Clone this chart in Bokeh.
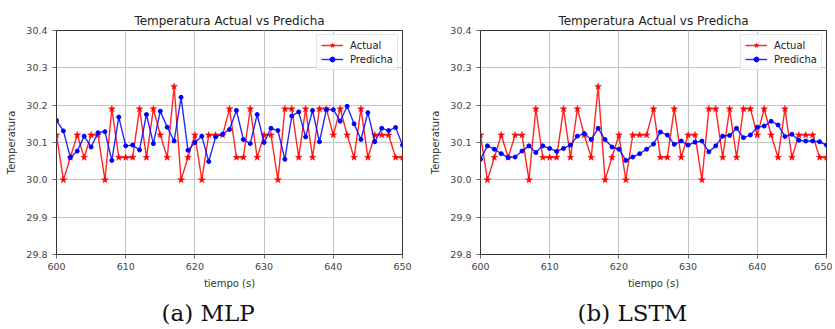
from bokeh.plotting import figure
from bokeh.layouts import row
from bokeh.models import FixedTicker, PrintfTickFormatter, Range1d, Title, Legend
from bokeh.embed import file_html
from bokeh.resources import INLINE

time_s = list(range(600, 651))

actual = [30.12, 30.00, 30.06, 30.12, 30.06, 30.12, 30.12, 30.00, 30.19, 30.06,
          30.06, 30.06, 30.19, 30.06, 30.19, 30.12, 30.06, 30.25, 30.00, 30.06,
          30.12, 30.00, 30.12, 30.12, 30.12, 30.19, 30.06, 30.06, 30.19, 30.06,
          30.12, 30.12, 30.00, 30.19, 30.19, 30.06, 30.19, 30.06, 30.19, 30.19,
          30.12, 30.19, 30.12, 30.06, 30.19, 30.06, 30.12, 30.12, 30.12, 30.06,
          30.06]

pred_mlp = [30.159, 30.131, 30.060, 30.077, 30.117, 30.088, 30.126, 30.129, 30.052, 30.168,
            30.091, 30.093, 30.080, 30.175, 30.097, 30.184, 30.141, 30.104, 30.221, 30.079,
            30.100, 30.117, 30.049, 30.115, 30.122, 30.135, 30.186, 30.108, 30.097, 30.175,
            30.100, 30.138, 30.132, 30.055, 30.171, 30.182, 30.115, 30.186, 30.102, 30.188,
            30.188, 30.157, 30.197, 30.150, 30.108, 30.180, 30.102, 30.138, 30.132, 30.140,
            30.093]

pred_lstm = [30.055, 30.091, 30.082, 30.070, 30.060, 30.061, 30.077, 30.091, 30.073, 30.091,
             30.084, 30.076, 30.084, 30.093, 30.117, 30.124, 30.108, 30.138, 30.108, 30.088,
             30.082, 30.052, 30.061, 30.070, 30.082, 30.096, 30.128, 30.120, 30.095, 30.104,
             30.093, 30.101, 30.104, 30.075, 30.091, 30.117, 30.119, 30.138, 30.113, 30.120,
             30.141, 30.144, 30.157, 30.147, 30.116, 30.122, 30.106, 30.104, 30.104, 30.102,
             30.093]

x_ticks = [600, 610, 620, 630, 640, 650]
y_ticks = [29.8, 29.9, 30.0, 30.1, 30.2, 30.3, 30.4]

title_text = "Temperatura Actual vs Predicha"
x_label = "tiempo (s)"
y_label = "Temperatura"
captions = ["(a) MLP", "(b) LSTM"]
series_names = ["Actual", "Predicha"]

SANS = "DejaVu Sans"


def make_plot(pred, caption, border_right, cap_offset):
    p = figure(frame_width=346, frame_height=224,
               output_backend="svg", toolbar_location=None,
               x_range=Range1d(600, 650), y_range=Range1d(29.8, 30.4),
               min_border_left=56, min_border_right=border_right,
               min_border_top=30, min_border_bottom=0)
    p.title.text = title_text
    p.title.align = "center"
    p.title.text_font = SANS
    p.title.text_font_size = "12px"
    p.title.text_font_style = "normal"
    p.title.text_color = "#222222"
    p.title.standoff = 6
    p.title.offset = 0

    p.xaxis.axis_label = x_label
    p.yaxis.axis_label = y_label
    for ax in (p.xaxis[0], p.yaxis[0]):
        ax.axis_label_text_font = SANS
        ax.axis_label_text_font_size = "10px"
        ax.axis_label_text_font_style = "normal"
        ax.axis_label_text_color = "#333333"
        ax.major_label_text_font = SANS
        ax.major_label_text_font_size = "9.5px"
        ax.major_label_text_color = "#444444"
        ax.major_tick_out = 4
        ax.major_tick_in = 0
        ax.minor_tick_out = 0
        ax.minor_tick_in = 0
        ax.major_tick_line_color = "#666666"
        ax.axis_line_color = "#333333"
    p.xaxis.ticker = FixedTicker(ticks=x_ticks)
    p.yaxis.ticker = FixedTicker(ticks=y_ticks)
    p.yaxis.formatter = PrintfTickFormatter(format="%.1f")
    p.xaxis.major_label_standoff = 4
    p.xaxis.axis_label_standoff = 5
    p.yaxis.major_label_standoff = 5
    p.yaxis.axis_label_standoff = 6

    p.xgrid.ticker = FixedTicker(ticks=x_ticks)
    p.ygrid.ticker = FixedTicker(ticks=y_ticks)
    p.grid.grid_line_color = "#c4c4c4"
    p.grid.grid_line_width = 1
    p.outline_line_color = "#333333"
    p.outline_line_width = 1

    r1 = p.line(time_s, actual, line_color="#ff0000", line_width=1.4, line_alpha=0.85)
    r2 = p.scatter(time_s, actual, marker="star", size=7, fill_color="#ff0000",
                   line_color="#ff0000", line_width=0.5)
    r3 = p.line(time_s, pred, line_color="#0000ff", line_width=1.4, line_alpha=0.85)
    r4 = p.scatter(time_s, pred, marker="circle", size=4, fill_color="#0000ff",
                   line_color="#0000ff")

    legend = Legend(items=[(series_names[0], [r1, r2]), (series_names[1], [r3, r4])],
                    location="top_right")
    legend.label_text_font = SANS
    legend.label_text_font_size = "10px"
    legend.label_text_color = "#222222"
    legend.glyph_width = 22
    legend.glyph_height = 12
    legend.label_height = 12
    legend.label_standoff = 7
    legend.spacing = 2
    legend.padding = 4
    legend.margin = 4
    legend.border_line_color = "#cccccc"
    legend.background_fill_alpha = 0.8
    p.add_layout(legend)

    cap = Title(text=caption, align="left", text_font="DejaVu Serif",
                text_font_size="23px", text_font_style="normal", text_color="#111111",
                offset=cap_offset, standoff=12)
    p.add_layout(cap, "below")
    return p


p1 = make_plot(pred_mlp, captions[0], 22, 105)
p2 = make_plot(pred_lstm, captions[1], 6, 97)
layout = row(p1, p2, spacing=0)

open("out.html", "w").write(file_html(layout, INLINE))
